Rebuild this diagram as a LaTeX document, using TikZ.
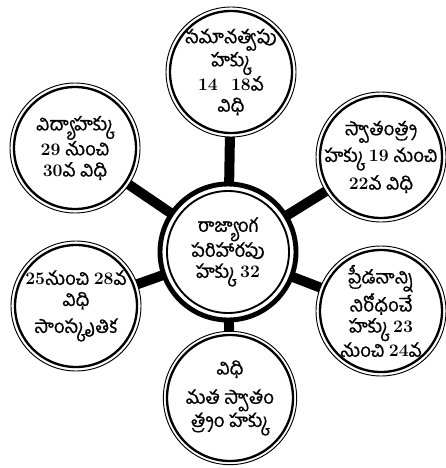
\documentclass[tikz,border=0pt]{standalone}
\usepackage{fontspec}
\newfontfamily\telugu[Script=Telugu,FakeBold=0.8]{Hind Guntur}
\usetikzlibrary{backgrounds}
\newcommand{\nm}[1]{{\normalfont\bfseries\fontsize{15}{18}\selectfont #1}}

\begin{document}
\begin{tikzpicture}[x=0.3mm, y=-0.3mm,
		hakku/.style={circle, draw, line width=0.8pt, fill=white,
			minimum size=39mm, inner sep=-5mm, align=center,
			font=\telugu\fontsize{16}{18}\selectfont},
		kendram/.style={hakku, line width=4.2pt, minimum size=40.8mm},
		ring/.style={line width=2pt},
		spoke/.style={line width=3mm}
	]
	\useasboundingbox (0,0) rectangle (446,468);
	% centre and the six rights
	\node[kendram] (rajyanga) at (228,252) {రాజ్యాంగ\\పరిహారపు\\హక్కు \nm{32}};
	\node[hakku] (samana) at (231,72) {సమానత్వపు\\హక్కు\\\nm{14\ \ 18}వ\\విధి};
	\node[hakku] (vidya) at (75,148) {విద్యాహక్కు\\\nm{29} నుంచి\\\nm{30}వ\ విధి};
	\node[hakku] (swatantrya) at (381,157) {స్వాతంత్ర్య\\[3pt]హక్కు \nm{19} నుంచి\\[3pt]\nm{22}వ విధి};
	\node[hakku] (samskruti) at (76,306) {\nm{25}నుంచి \nm{28}వ\\విధి\\[5pt]సాంస్కృతిక};
	\node[hakku] (peedana) at (381,311) {ప్రీడనాన్ని\\నిరోధంచే\\హక్కు \nm{23}\\నుంచి \nm{24}వ};
	\node[hakku, minimum size=40mm] (matha) at (230,398) {విధి\\[7pt]మత స్వాతం\\త్ర్యం హక్కు};
	% inner rings
	\foreach \n in {samana,vidya,swatantrya,samskruti,peedana}
		\draw[ring] (\n.center) circle (18.3mm);
	\draw[ring] (matha.center) circle (18.9mm);
	\draw[ring, line width=1.6pt] (rajyanga.center) circle (18.3mm);
	% spokes
	\begin{scope}[on background layer]
		\foreach \n in {samana,vidya,swatantrya,samskruti,peedana,matha}
			\draw[spoke] (rajyanga.center) -- (\n.center);
	\end{scope}
\end{tikzpicture}
\end{document}
